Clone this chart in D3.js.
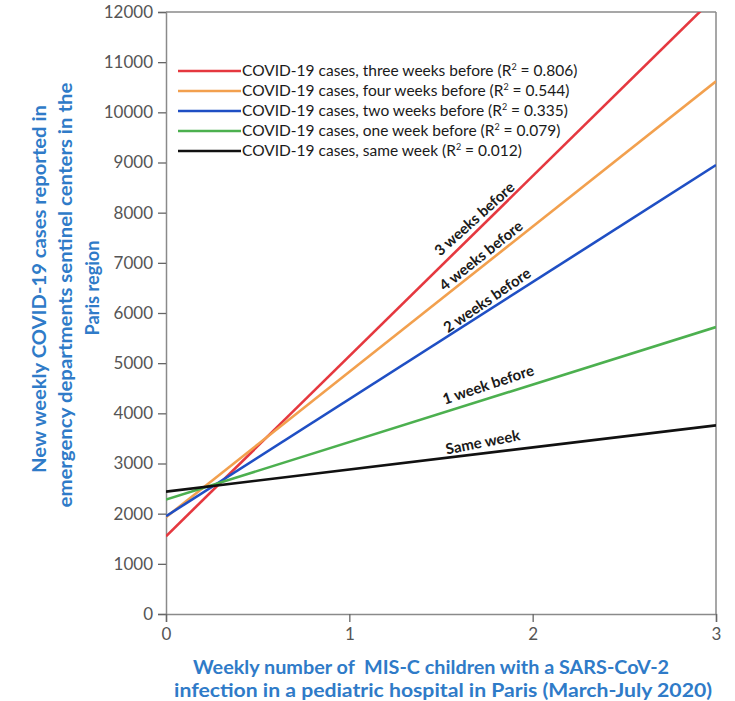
<!DOCTYPE html>
<html><head><meta charset="utf-8">
<script src="https://cdn.jsdelivr.net/npm/d3@7"></script>
<style>body{margin:0;background:#fff;} svg{display:block;}</style>
</head><body>
<script>
const xTicks = [0, 1, 2, 3];
const yTicks = [0,1000,2000,3000,4000,5000,6000,7000,8000,9000,10000,11000,12000];
const seriesKeys = ["three", "four", "two", "one", "same"];
const seriesColors = ["#e5383f", "#f2a04e", "#1f4fc4", "#4cb04f", "#111111"];
const legendPre = ["COVID-19 cases, three weeks before (R", "COVID-19 cases, four weeks before (R", "COVID-19 cases, two weeks before (R", "COVID-19 cases, one week before (R", "COVID-19 cases, same week (R"];
const legendR2 = ["0.806", "0.544", "0.335", "0.079", "0.012"];
const xStart = [0, 0, 0, 0, 0];
const xEnd = [3, 3, 3, 3, 3];
const yAtStart = [1550, 1930, 1950, 2280, 2440];
const yAtEnd = [12320, 10620, 8950, 5720, 3760];
const lineLabels = ["3 weeks before", "4 weeks before", "2 weeks before", "1 week before", "Same week"];
const labelAtX = [1.72, 1.75, 1.78, 1.78, 1.74];
const yTitle = ["New weekly COVID-19 cases reported in", "emergency departments sentinel centers in the", "Paris region"];
const xTitle = ["Weekly number of  MIS-C children with a SARS-CoV-2", "infection in a pediatric hospital in Paris (March-July 2020)"];

// layout constants (label styling)
const labelRot = [-42, -38.7, -34.5, -18.4, -11];
const labelDy = [-5, -4, -4, -8, -6];

const W = 735, H = 701;
const svg = d3.select("body").append("svg").attr("width", W).attr("height", H);
const x = d3.scaleLinear().domain([0, 3]).range([166, 716]);
const y = d3.scaleLinear().domain([0, 12000]).range([614, 12]);
const font = "Lato, 'Open Sans', sans-serif";
const axisCol = "#8a8a8a";

svg.append("defs").append("clipPath").attr("id", "plot")
  .append("rect").attr("x", x(0)).attr("y", y(12000)).attr("width", x(3) - x(0)).attr("height", y(0) - y(12000));

svg.append("line").attr("x1", x(0)).attr("x2", x(3)).attr("y1", y(12000)).attr("y2", y(12000)).attr("stroke", axisCol).attr("stroke-width", 1.5);
svg.append("line").attr("x1", x(3)).attr("x2", x(3)).attr("y1", y(12000)).attr("y2", y(0)).attr("stroke", axisCol).attr("stroke-width", 1.5);

const yAxis = svg.append("g").attr("transform", `translate(${x(0)},0)`)
  .call(d3.axisLeft(y).tickValues(yTicks).tickFormat(d3.format("d")).tickSize(8).tickPadding(5));
const xAxis = svg.append("g").attr("transform", `translate(0,${y(0)})`)
  .call(d3.axisBottom(x).tickValues(xTicks).tickFormat(d3.format("d")).tickSize(8).tickPadding(6));
[yAxis, xAxis].forEach(a => {
  a.select(".domain").attr("stroke", axisCol).attr("stroke-width", 1.5);
  a.selectAll(".tick line").attr("stroke", "#666").attr("stroke-width", 1.3);
  a.selectAll(".tick text").attr("fill", "#555").style("font-family", font).style("font-size", "17px");
});

const g = svg.append("g").attr("clip-path", "url(#plot)");
seriesKeys.forEach((k, i) => {
  g.append("line")
    .attr("x1", x(xStart[i])).attr("y1", y(yAtStart[i]))
    .attr("x2", x(xEnd[i])).attr("y2", y(yAtEnd[i]))
    .attr("stroke", seriesColors[i]).attr("stroke-width", 2.6);
});

seriesKeys.forEach((k, i) => {
  const slope = (yAtEnd[i] - yAtStart[i]) / (xEnd[i] - xStart[i]);
  const lx = labelAtX[i];
  const ly = yAtStart[i] + slope * (lx - xStart[i]);
  const px = x(lx), py = y(ly);
  svg.append("text").attr("transform", `translate(${px},${py}) rotate(${labelRot[i]})`)
    .attr("dy", labelDy[i]).attr("text-anchor", "middle")
    .style("font-family", font).style("font-weight", "bold").style("font-size", "15px").attr("fill", "#1a1a1a")
    .text(lineLabels[i]);
});

const legY0 = 71, legStep = 20;
seriesKeys.forEach((k, i) => {
  const ly = legY0 + i * legStep;
  svg.append("line").attr("x1", 178).attr("x2", 241).attr("y1", ly).attr("y2", ly)
    .attr("stroke", seriesColors[i]).attr("stroke-width", 2.6);
  const t = svg.append("text").attr("x", 242).attr("y", ly + 5)
    .style("font-family", font).style("font-size", "15.5px").attr("fill", "#1a1a1a");
  t.append("tspan").text(legendPre[i]);
  t.append("tspan").attr("dy", -6).style("font-size", "9px").text("2");
  t.append("tspan").attr("dy", 6).text(" = " + legendR2[i] + ")");
});

const yTitleX = [46, 72, 99];
const yTitleC = [289, 295, 288];
const yTitleLen = [368, 425, 95];
yTitle.forEach((s, i) => {
  svg.append("text").attr("transform", `translate(${yTitleX[i]},${yTitleC[i]}) rotate(-90)`)
    .attr("text-anchor", "middle")
    .attr("textLength", yTitleLen[i]).attr("lengthAdjust", "spacingAndGlyphs")
    .style("font-family", font).style("font-weight", "bold").style("font-size", "19px").attr("fill", "#2f7bc8")
    .text(s);
});
const xTitleX = [431, 443], xTitleY = [674, 697], xTitleLen = [476, 538];
xTitle.forEach((s, i) => {
  svg.append("text").attr("x", xTitleX[i]).attr("y", xTitleY[i]).attr("text-anchor", "middle")
    .attr("textLength", xTitleLen[i]).attr("lengthAdjust", "spacingAndGlyphs")
    .style("font-family", font).style("font-weight", "bold").style("font-size", "19px").attr("fill", "#2f7bc8")
    .attr("xml:space", "preserve")
    .text(s);
});
</script>
</body></html>
